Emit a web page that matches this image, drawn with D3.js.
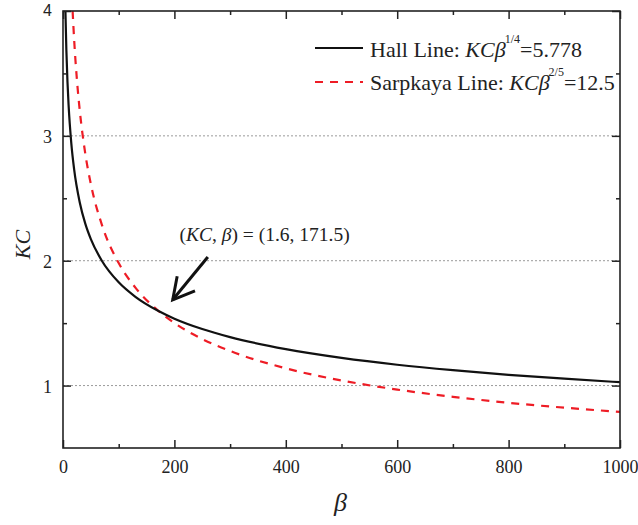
<!DOCTYPE html>
<html>
<head>
<meta charset="utf-8">
<script src="https://cdn.jsdelivr.net/npm/d3@7"></script>
<style>
  html, body { margin: 0; padding: 0; background: #fff; }
  svg text { font-family: "Liberation Serif", "Times New Roman", serif; fill: #222; }
</style>
</head>
<body>
<svg id="chart" width="638" height="525"></svg>
<script>
// Hall line: KC * beta^(1/4) = 5.778
const hallBeta = [4.35, 6, 8, 10, 15, 20, 30, 40, 50, 70, 100, 130, 171.5, 200, 250, 300, 400, 500, 600, 700, 800, 900, 1000];
const hallKC   = [4.000, 3.692, 3.436, 3.249, 2.936, 2.732, 2.469, 2.297, 2.173, 1.998, 1.827, 1.711, 1.597, 1.536, 1.453, 1.388, 1.292, 1.222, 1.167, 1.123, 1.086, 1.055, 1.027];

// Sarpkaya line: KC * beta^(2/5) = 12.5
const sarpBeta = [17.26, 20, 25, 30, 40, 50, 70, 100, 130, 171.5, 200, 250, 300, 400, 500, 600, 700, 800, 900, 1000];
const sarpKC   = [4.000, 3.771, 3.449, 3.207, 2.858, 2.614, 2.285, 1.981, 1.784, 1.597, 1.501, 1.373, 1.277, 1.138, 1.041, 0.968, 0.910, 0.862, 0.823, 0.789];

const xTicks = [0, 200, 400, 600, 800, 1000];
const xMinor = [100, 300, 500, 700, 900];
const yTicks = [1, 2, 3, 4];
const yMinor = [1.5, 2.5, 3.5];
const gridKC = [1, 2, 3];

// intersection callout: arrow from -> to, in (beta, KC)
const arrowFrom = [260, 2.03];
const arrowTo   = [197, 1.687];

const SERIF = "'Liberation Serif', 'Times New Roman', serif";
const SANS = "'Liberation Sans', Arial, sans-serif";

const svg = d3.select("#chart");
const m = { left: 63, top: 11, right: 18, bottom: 77 };
const W = 638 - m.left - m.right;
const H = 525 - m.top - m.bottom;

const x = d3.scaleLinear().domain([0, 1000]).range([0, W]);
const y = d3.scaleLinear().domain([0.5, 4]).range([H, 0]);

const g = svg.append("g").attr("transform", `translate(${m.left},${m.top})`)
  .style("font-family", SERIF);

svg.append("defs").append("clipPath").attr("id", "plotClip")
  .append("rect").attr("width", W).attr("height", H);

// dotted grid lines
g.append("g").selectAll("line").data(gridKC).join("line")
  .attr("x1", 0).attr("x2", W)
  .attr("y1", d => y(d)).attr("y2", d => y(d))
  .attr("stroke", "#9a9a9a").attr("stroke-width", 1)
  .attr("stroke-dasharray", "2,2");

// curves
const line = d3.line().x(d => x(d[0])).y(d => y(d[1])).curve(d3.curveMonotoneX);
const plot = g.append("g").attr("clip-path", "url(#plotClip)");

plot.append("path")
  .datum(sarpBeta.map((b, i) => [b, sarpKC[i]]))
  .attr("d", line).attr("fill", "none")
  .attr("stroke", "#ee1c25").attr("stroke-width", 2.2)
  .attr("stroke-dasharray", "8,7");

plot.append("path")
  .datum(hallBeta.map((b, i) => [b, hallKC[i]]))
  .attr("d", line).attr("fill", "none")
  .attr("stroke", "#111").attr("stroke-width", 2.2);

// axes (ticks drawn inward on all four sides)
const tickFmt = d3.format("d");
const axB = g.append("g").attr("transform", `translate(0,${H})`)
  .call(d3.axisBottom(x).tickValues(xTicks).tickSize(-8).tickPadding(12).tickFormat(tickFmt));
const axBm = g.append("g").attr("transform", `translate(0,${H})`)
  .call(d3.axisBottom(x).tickValues(xMinor).tickSize(-4).tickFormat(""));
const axT = g.append("g")
  .call(d3.axisTop(x).tickValues(xTicks).tickSize(-8).tickFormat(""));
const axTm = g.append("g")
  .call(d3.axisTop(x).tickValues(xMinor).tickSize(-4).tickFormat(""));
const axL = g.append("g")
  .call(d3.axisLeft(y).tickValues(yTicks).tickSize(-8).tickPadding(11).tickFormat(tickFmt));
const axLm = g.append("g")
  .call(d3.axisLeft(y).tickValues(yMinor).tickSize(-4).tickFormat(""));
const axR = g.append("g").attr("transform", `translate(${W},0)`)
  .call(d3.axisRight(y).tickValues(yTicks).tickSize(-8).tickFormat(""));
const axRm = g.append("g").attr("transform", `translate(${W},0)`)
  .call(d3.axisRight(y).tickValues(yMinor).tickSize(-4).tickFormat(""));

[axB, axBm, axT, axTm, axL, axLm, axR, axRm].forEach(a => {
  a.attr("font-family", null);
  a.selectAll(".domain").remove();
  a.selectAll(".tick line").attr("stroke", "#222").attr("stroke-width", 1.5);
  a.selectAll("text").attr("font-size", 18).attr("fill", "#222")
    .style("font-family", SERIF);
});
axL.selectAll(".tick text").attr("dy", "0.36em");
// the top label of the KC axis is set in a lighter sans face
axL.selectAll(".tick text").filter(d => d === 4)
  .style("font-family", SANS).attr("font-size", 16).attr("fill", "#444").attr("dy", "0.3em");

// frame
g.append("rect").attr("width", W).attr("height", H)
  .attr("fill", "none").attr("stroke", "#222").attr("stroke-width", 1.6);

// axis titles
svg.append("text")
  .attr("transform", `translate(30,${m.top + y(2.13)}) rotate(-90)`)
  .attr("text-anchor", "middle").attr("font-size", 22).attr("font-style", "italic")
  .style("font-family", SERIF)
  .text("KC");
svg.append("text")
  .attr("x", m.left + x(500) - 1).attr("y", 511)
  .attr("text-anchor", "middle").attr("font-size", 26).attr("font-style", "italic")
  .style("font-family", SERIF)
  .text("β");

// legend
const leg = g.append("g").attr("transform", "translate(252,0)");
leg.append("line").attr("x1", 0).attr("x2", 48).attr("y1", 37).attr("y2", 37)
  .attr("stroke", "#111").attr("stroke-width", 2.2);
leg.append("line").attr("x1", 0).attr("x2", 48).attr("y1", 71).attr("y2", 71)
  .attr("stroke", "#ee1c25").attr("stroke-width", 2.2).attr("stroke-dasharray", "8,7");

function eqText(sel, yPos, name, exp, val) {
  const t = sel.append("text").attr("x", 55).attr("y", yPos).attr("font-size", 22);
  t.append("tspan").text(name + " ");
  t.append("tspan").attr("font-style", "italic").text("KCβ");
  t.append("tspan").attr("font-size", 12).attr("dy", -14).attr("dx", -1).text(exp);
  t.append("tspan").attr("dy", 14).text("=" + val);
}
eqText(leg, 45.7, "Hall Line:", "1/4", "5.778");
eqText(leg, 79, "Sarpkaya Line:", "2/5", "12.5");

// callout text
const ct = g.append("text")
  .attr("x", x(362)).attr("y", y(2.16))
  .attr("text-anchor", "middle").attr("font-size", 19.5);
ct.append("tspan").text("(");
ct.append("tspan").attr("font-style", "italic").text("KC");
ct.append("tspan").text(", ");
ct.append("tspan").attr("font-style", "italic").text("β");
ct.append("tspan").text(") = (1.6, 171.5)");

// arrow
const ax0 = x(arrowFrom[0]), ay0 = y(arrowFrom[1]);
const ax1 = x(arrowTo[0]), ay1 = y(arrowTo[1]);
const ang = Math.atan2(ay1 - ay0, ax1 - ax0);
const headLen = 24, spread = 0.5;
g.append("line").attr("x1", ax0).attr("y1", ay0).attr("x2", ax1).attr("y2", ay1)
  .attr("stroke", "#111").attr("stroke-width", 3);
g.append("path")
  .attr("d", d3.line()([
    [ax1 - headLen * Math.cos(ang - spread), ay1 - headLen * Math.sin(ang - spread)],
    [ax1, ay1],
    [ax1 - headLen * Math.cos(ang + spread), ay1 - headLen * Math.sin(ang + spread)]
  ]))
  .attr("fill", "none").attr("stroke", "#111").attr("stroke-width", 3)
  .attr("stroke-linejoin", "miter");
</script>
</body>
</html>
